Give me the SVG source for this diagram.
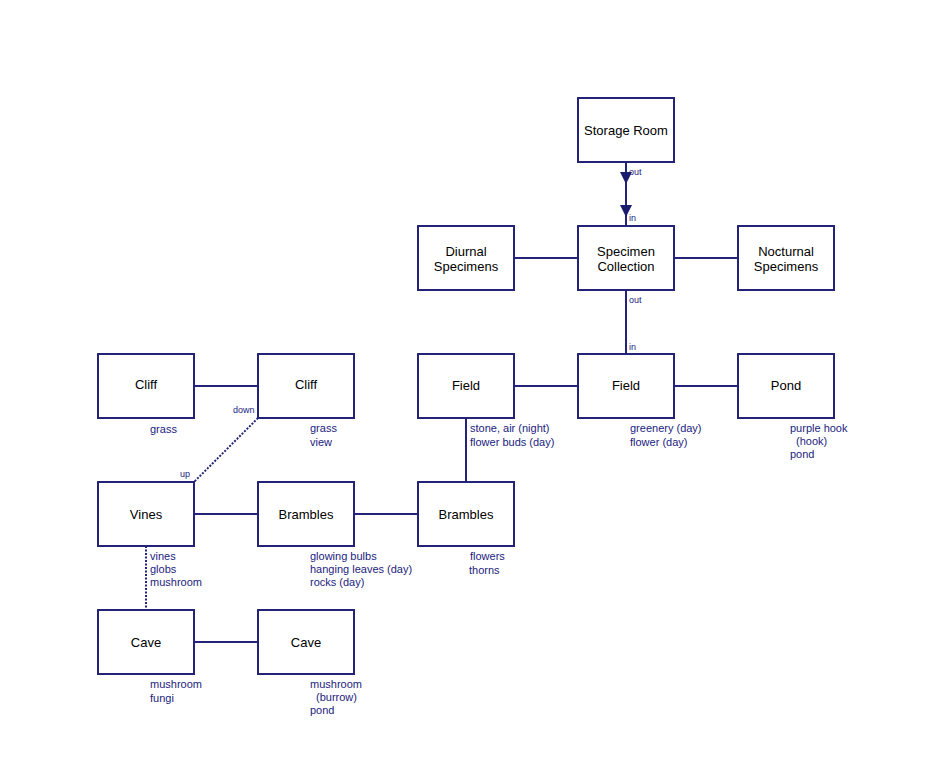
<svg xmlns="http://www.w3.org/2000/svg" width="932" height="772" viewBox="0 0 932 772">
<defs>
<style>
.box{fill:#fff;stroke:#23237a;stroke-width:2}
.t{font-family:"Liberation Sans",Arial,sans-serif;font-size:13px;fill:#000;text-anchor:middle}
.l{font-family:"Liberation Sans",Arial,sans-serif;font-size:11px;fill:#1c1c80}
.p{font-family:"Liberation Sans",Arial,sans-serif;font-size:9px;fill:#1c1c80}
.c{stroke:#23237a;stroke-width:2;fill:none}
.d{stroke:#23237a;stroke-width:2;fill:none;stroke-dasharray:2,1.5}
.ah{fill:#1c1c6e}
</style>
</defs>
<rect width="932" height="772" fill="#fff"/>
<g id="connectors">
<line class="c" x1="626" y1="162" x2="626" y2="226"/>
<polygon class="ah" points="620,172 632,172 626,184"/>
<polygon class="ah" points="620,205 632,205 626,217"/>
<line class="c" x1="514" y1="258" x2="578" y2="258"/>
<line class="c" x1="674" y1="258" x2="738" y2="258"/>
<line class="c" x1="626" y1="290" x2="626" y2="354"/>
<line class="c" x1="514" y1="386" x2="578" y2="386"/>
<line class="c" x1="674" y1="386" x2="738" y2="386"/>
<line class="c" x1="466" y1="418" x2="466" y2="482"/>
<line class="c" x1="194" y1="386" x2="258" y2="386"/>
<line class="d" x1="258" y1="418" x2="194" y2="482"/>
<line class="c" x1="194" y1="514" x2="258" y2="514"/>
<line class="c" x1="354" y1="514" x2="418" y2="514"/>
<line class="d" x1="146" y1="546" x2="146" y2="610"/>
<line class="c" x1="194" y1="642" x2="258" y2="642"/>
<text class="p" x="629" y="175">out</text>
<text class="p" x="629" y="221">in</text>
<text class="p" x="629" y="303">out</text>
<text class="p" x="629" y="350">in</text>
<text class="p" x="233" y="413">down</text>
<text class="p" x="180" y="477">up</text>
</g>
<g id="storage-room"><rect class="box" x="578" y="98" width="96" height="64"/><text class="t" x="626" y="135">Storage Room</text></g>
<g id="diurnal"><rect class="box" x="418" y="226" width="96" height="64"/><text class="t" x="466" y="256">Diurnal</text><text class="t" x="466" y="271">Specimens</text></g>
<g id="specimen-collection"><rect class="box" x="578" y="226" width="96" height="64"/><text class="t" x="626" y="256">Specimen</text><text class="t" x="626" y="271">Collection</text></g>
<g id="nocturnal"><rect class="box" x="738" y="226" width="96" height="64"/><text class="t" x="786" y="256">Nocturnal</text><text class="t" x="786" y="271">Specimens</text></g>
<g id="field-1"><rect class="box" x="418" y="354" width="96" height="64"/><text class="t" x="466" y="390">Field</text><text class="l" x="470" y="432">stone, air (night)</text><text class="l" x="470" y="446">flower buds (day)</text></g>
<g id="field-2"><rect class="box" x="578" y="354" width="96" height="64"/><text class="t" x="626" y="390">Field</text><text class="l" x="630" y="432">greenery (day)</text><text class="l" x="630" y="446">flower (day)</text></g>
<g id="pond"><rect class="box" x="738" y="354" width="96" height="64"/><text class="t" x="786" y="390">Pond</text><text class="l" x="790" y="432">purple hook</text><text class="l" x="796" y="445">(hook)</text><text class="l" x="790" y="458">pond</text></g>
<g id="cliff-1"><rect class="box" x="98" y="354" width="96" height="64"/><text class="t" x="146" y="389">Cliff</text><text class="l" x="150" y="433">grass</text></g>
<g id="cliff-2"><rect class="box" x="258" y="354" width="96" height="64"/><text class="t" x="306" y="389">Cliff</text><text class="l" x="310" y="432">grass</text><text class="l" x="310" y="446">view</text></g>
<g id="vines"><rect class="box" x="98" y="482" width="96" height="64"/><text class="t" x="146" y="519">Vines</text><text class="l" x="150" y="560">vines</text><text class="l" x="150" y="573">globs</text><text class="l" x="150" y="586">mushroom</text></g>
<g id="brambles-1"><rect class="box" x="258" y="482" width="96" height="64"/><text class="t" x="306" y="519">Brambles</text><text class="l" x="310" y="560">glowing bulbs</text><text class="l" x="310" y="573">hanging leaves (day)</text><text class="l" x="310" y="586">rocks (day)</text></g>
<g id="brambles-2"><rect class="box" x="418" y="482" width="96" height="64"/><text class="t" x="466" y="519">Brambles</text><text class="l" x="470" y="560">flowers</text><text class="l" x="469" y="574">thorns</text></g>
<g id="cave-1"><rect class="box" x="98" y="610" width="96" height="64"/><text class="t" x="146" y="647">Cave</text><text class="l" x="150" y="688">mushroom</text><text class="l" x="150" y="702">fungi</text></g>
<g id="cave-2"><rect class="box" x="258" y="610" width="96" height="64"/><text class="t" x="306" y="647">Cave</text><text class="l" x="310" y="688">mushroom</text><text class="l" x="316" y="701">(burrow)</text><text class="l" x="310" y="714">pond</text></g>
</svg>
